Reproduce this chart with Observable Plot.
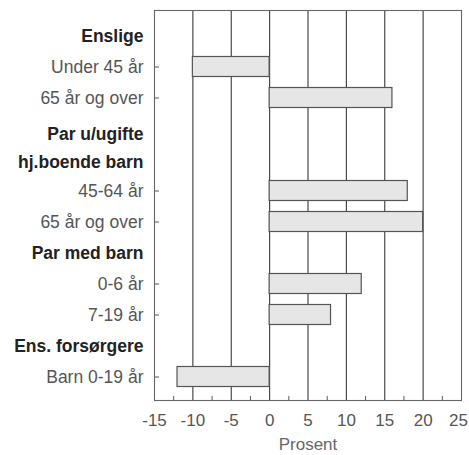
<!DOCTYPE html>
<html>
<head>
<meta charset="utf-8">
<script src="https://cdn.jsdelivr.net/npm/d3@7"></script>
<script src="https://cdn.jsdelivr.net/npm/@observablehq/plot@0.6"></script>
<style>
  html, body { margin: 0; padding: 0; background: #fff; }
</style>
</head>
<body>
<div id="chart"></div>
<script>
const labels = ["Enslige", "Under 45 år", "65 år og over", "Par u/ugifte", "hj.boende barn", "45-64 år", "65 år og over", "Par med barn", "0-6 år", "7-19 år", "Ens. forsørgere", "Barn 0-19 år"];
const isHeader = [true, false, false, true, true, false, false, true, false, false, true, false];
const values = [null, -10, 16, null, null, 18, 20, null, 12, 8, null, -12];
const xTicks = [-15, -10, -5, 0, 5, 10, 15, 20];
const xTickLast = [25];
const gridValues = [-10, -5, 0, 5, 10, 15, 20];
const minorTicks = [-12.5, -7.5, -2.5, 2.5, 7.5, 12.5, 17.5, 22.5];
const xLabel = "Prosent";

const rows = labels.map((label, i) => ({i, label, header: isHeader[i], value: values[i]}));
const dataRows = rows.filter(d => !d.header);
const fmt = v => String(v); // hyphen-minus as in the reference

const chart = Plot.plot({
  width: 469,
  height: 455,
  marginLeft: 154,
  marginRight: 8,
  marginTop: 10,
  marginBottom: 55,
  style: {fontFamily: "'Liberation Sans', Arial, sans-serif", fontSize: "17.5px", background: "#fff"},
  x: {domain: [-15, 25]},
  y: {type: "band", domain: d3.range(labels.length), padding: 0, insetTop: 9.5, insetBottom: 7.5},
  marks: [
    Plot.ruleX(gridValues, {stroke: "#3a3a3a", strokeWidth: 1.1}),
    Plot.barX(dataRows, {x1: 0, x2: "value", y: "i", fill: "#e6e6e6", stroke: "#555", strokeWidth: 1.2, insetTop: 5.5, insetBottom: 5.5}),
    Plot.frame({stroke: "#666", strokeWidth: 1.1}),
    Plot.axisX({ticks: xTicks, tickSize: 0, tickPadding: 13, tickFormat: fmt, fill: "#555", fontSize: 17, label: null}),
    Plot.axisX({ticks: xTickLast, tickSize: 0, tickPadding: 13, tickFormat: fmt, dx: -3, fill: "#555", fontSize: 17, label: null}),
    Plot.axisX({ticks: minorTicks, tickSize: 4, dy: -4, tickFormat: () => "", stroke: "#555", label: null}),
    Plot.axisY(dataRows.map(d => d.i), {tickSize: 5, dx: 5, tickFormat: () => "", stroke: "#555", label: null}),
    Plot.axisY(dataRows.map(d => d.i), {tickSize: 0, tickPadding: 11, tickFormat: i => labels[i], fill: "#555", label: null}),
    Plot.axisY([0, 7, 10], {tickSize: 0, tickPadding: 11, tickFormat: i => labels[i], fill: "#222", fontWeight: "bold", label: null}),
    Plot.axisY([3], {tickSize: 0, tickPadding: 11, dy: 5, tickFormat: i => labels[i], fill: "#222", fontWeight: "bold", label: null}),
    Plot.axisY([4], {tickSize: 0, tickPadding: 11, dy: 2, tickFormat: i => labels[i], fill: "#222", fontWeight: "bold", label: null}),
    Plot.text([xLabel], {frameAnchor: "bottom", dy: 49, fill: "#666", fontSize: 17})
  ]
});
document.getElementById("chart").appendChild(chart);
</script>
</body>
</html>
